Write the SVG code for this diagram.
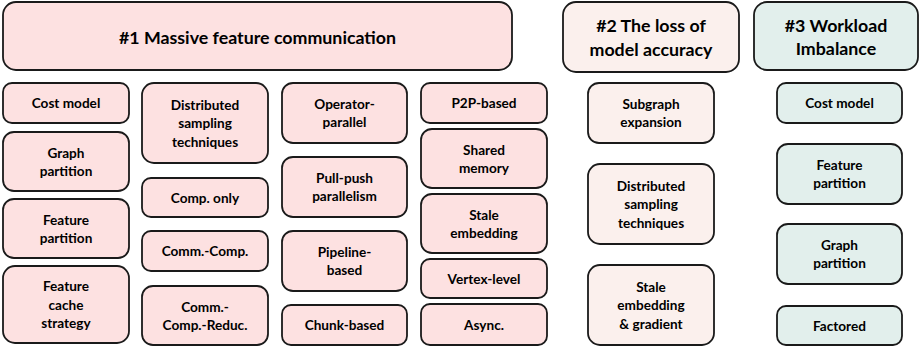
<svg xmlns="http://www.w3.org/2000/svg" width="920" height="349" viewBox="0 0 920 349">
<style>
rect{stroke:#1a1a1a;stroke-width:1.8}
.p1{fill:#fde1e1}
.p2{fill:#fbf0ed}
.p3{fill:#e2efec}
text{font-family:Lato,"Open Sans","Liberation Sans",sans-serif;font-weight:bold;fill:#000;text-anchor:middle;dominant-baseline:central}
.s{font-size:13.6px}
.h{font-size:17.8px}
</style>
<rect width="920" height="349" fill="#ffffff" style="stroke:none"/>
<g id="connectors"/>
<g id="h1"><rect class="p1" x="3" y="2" width="509" height="68" rx="13"/><text class="h" x="257.5" y="37">#1 Massive feature communication</text></g>
<g id="h2"><rect class="p2" x="563" y="2" width="176" height="70" rx="13"/><text class="h" x="651" y="25">#2 The loss of</text><text class="h" x="651" y="49">model accuracy</text></g>
<g id="h3"><rect class="p3" x="754" y="2" width="164" height="68" rx="13"/><text class="h" x="836" y="25">#3 Workload</text><text class="h" x="836" y="48">Imbalance</text></g>

<g id="c1a"><rect class="p1" x="3" y="83" width="126" height="40" rx="9"/><text class="s" x="66" y="103">Cost model</text></g>
<g id="c1b"><rect class="p1" x="3" y="132" width="126" height="59" rx="11"/><text class="s" x="66" y="152.5">Graph</text><text class="s" x="66" y="171">partition</text></g>
<g id="c1c"><rect class="p1" x="3" y="199" width="126" height="59" rx="11"/><text class="s" x="66" y="219.5">Feature</text><text class="s" x="66" y="238">partition</text></g>
<g id="c1d"><rect class="p1" x="3" y="266" width="126" height="77" rx="12"/><text class="s" x="66" y="286">Feature</text><text class="s" x="66" y="304.5">cache</text><text class="s" x="66" y="323">strategy</text></g>

<g id="c2a"><rect class="p1" x="142" y="83" width="126" height="80" rx="12"/><text class="s" x="205" y="104.5">Distributed</text><text class="s" x="205" y="123">sampling</text><text class="s" x="205" y="141.5">techniques</text></g>
<g id="c2b"><rect class="p1" x="142" y="178" width="126" height="39" rx="9"/><text class="s" x="205" y="197.5">Comp. only</text></g>
<g id="c2c"><rect class="p1" x="142" y="231" width="126" height="40" rx="9"/><text class="s" x="205" y="251">Comm.-Comp.</text></g>
<g id="c2d"><rect class="p1" x="142" y="286" width="126" height="59" rx="11"/><text class="s" x="205" y="306.5">Comm.-</text><text class="s" x="205" y="325">Comp.-Reduc.</text></g>

<g id="c3a"><rect class="p1" x="282" y="83" width="125" height="60" rx="11"/><text class="s" x="344.5" y="103.5">Operator-</text><text class="s" x="344.5" y="122">parallel</text></g>
<g id="c3b"><rect class="p1" x="282" y="157" width="125" height="60" rx="11"/><text class="s" x="344.5" y="177.5">Pull-push</text><text class="s" x="344.5" y="196">parallelism</text></g>
<g id="c3c"><rect class="p1" x="282" y="231" width="125" height="60" rx="11"/><text class="s" x="344.5" y="251.5">Pipeline-</text><text class="s" x="344.5" y="270">based</text></g>
<g id="c3d"><rect class="p1" x="282" y="305" width="125" height="40" rx="9"/><text class="s" x="344.5" y="325">Chunk-based</text></g>

<g id="c4a"><rect class="p1" x="421" y="83" width="126" height="40" rx="9"/><text class="s" x="484" y="103">P2P-based</text></g>
<g id="c4b"><rect class="p1" x="421" y="129" width="126" height="59" rx="11"/><text class="s" x="484" y="149.5">Shared</text><text class="s" x="484" y="168">memory</text></g>
<g id="c4c"><rect class="p1" x="421" y="194" width="126" height="59" rx="11"/><text class="s" x="484" y="214.5">Stale</text><text class="s" x="484" y="233">embedding</text></g>
<g id="c4d"><rect class="p1" x="421" y="259" width="126" height="39" rx="9"/><text class="s" x="484" y="278.5">Vertex-level</text></g>
<g id="c4e"><rect class="p1" x="421" y="304" width="126" height="41" rx="9"/><text class="s" x="484" y="324.5">Async.</text></g>

<g id="c5a"><rect class="p2" x="588" y="83" width="126" height="60" rx="11"/><text class="s" x="651" y="103.5">Subgraph</text><text class="s" x="651" y="122">expansion</text></g>
<g id="c5b"><rect class="p2" x="588" y="164" width="126" height="80" rx="12"/><text class="s" x="651" y="185.5">Distributed</text><text class="s" x="651" y="204">sampling</text><text class="s" x="651" y="222.5">techniques</text></g>
<g id="c5c"><rect class="p2" x="588" y="265" width="126" height="80" rx="12"/><text class="s" x="651" y="286.5">Stale</text><text class="s" x="651" y="305">embedding</text><text class="s" x="651" y="323.5">&amp; gradient</text></g>

<g id="c6a"><rect class="p3" x="777" y="83" width="125" height="40" rx="9"/><text class="s" x="839.5" y="103">Cost model</text></g>
<g id="c6b"><rect class="p3" x="777" y="144" width="125" height="60" rx="11"/><text class="s" x="839.5" y="164.5">Feature</text><text class="s" x="839.5" y="183">partition</text></g>
<g id="c6c"><rect class="p3" x="777" y="224" width="125" height="60" rx="11"/><text class="s" x="839.5" y="244.5">Graph</text><text class="s" x="839.5" y="263">partition</text></g>
<g id="c6d"><rect class="p3" x="777" y="306" width="125" height="39" rx="9"/><text class="s" x="839.5" y="325.5">Factored</text></g>
</svg>
